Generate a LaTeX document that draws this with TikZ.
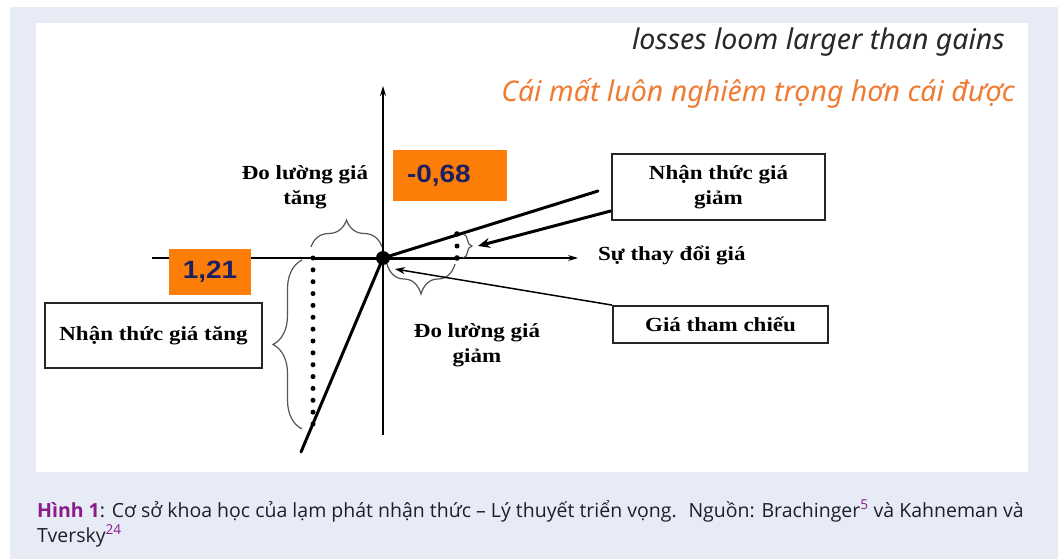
\documentclass[tikz,border=0pt]{standalone}
\usepackage{fontspec}
\setmainfont{Liberation Serif}
\newfontfamily\lblfont{Liberation Serif}[FakeStretch=1.15]
\newfontfamily\numfont{Liberation Sans}[FakeStretch=1.12]
\newfontfamily\headfont{Noto Sans}
\newfontfamily\capfont{Open Sans}
\usetikzlibrary{arrows.meta,decorations.pathreplacing,calc}

\definecolor{pagebg}{RGB}{231,235,246}
\definecolor{boxorange}{RGB}{252,126,8}
\definecolor{numnavy}{RGB}{28,32,98}
\definecolor{headorange}{RGB}{240,124,52}
\definecolor{headgray}{RGB}{40,40,40}
\definecolor{capviolet}{RGB}{138,28,138}
\definecolor{captext}{RGB}{30,30,40}
\definecolor{bracegray}{RGB}{85,85,85}

\tikzset{
  lbl/.style={font=\lblfont\bfseries\fontsize{20}{25}\selectfont, align=center, inner sep=0pt},
  framed/.style={draw=black!85, line width=1.8pt, fill=white, inner sep=0pt,
    font=\lblfont\bfseries\fontsize{20}{25}\selectfont, align=center},
  numbox/.style={fill=boxorange, text=numnavy, inner sep=0pt,
    font=\numfont\bfseries\fontsize{25}{28}\selectfont},
  axisline/.style={line width=1.6pt, -{Stealth[length=10pt,width=6pt]}},
  heavy/.style={line width=3pt, line cap=round},
  brc/.style={decorate, draw=bracegray, line width=1.2pt},
  pointer/.style={line width=3pt, -{Stealth[length=12pt,width=10pt]}},
  thinpointer/.style={line width=1.5pt, -{Stealth[length=10pt,width=7pt]}},
  dotmark/.style={fill=black},
  heading/.style={anchor=east, inner sep=0pt, font=\headfont\itshape\fontsize{28.5}{32}\selectfont},
}

\begin{document}
\begin{tikzpicture}[x=1pt,y=-1pt]
  % page and panel
  \useasboundingbox (0,0) rectangle (1058,559);
  \fill[white] (0,0) rectangle (1058,559);
  \fill[pagebg] (10,7) rectangle (1058,559);
  \fill[white] (36,23) rectangle (1028,472);

  % headings
  \node[heading, text=headgray] (hen) at (1005,42) {losses loom larger than gains};
  \node[heading, text=headorange] (hvi) at (1015,93) {Cái mất luôn nghiêm trọng hơn cái được};

  % key points
  \coordinate (O) at (383,258);
  \coordinate (ytop) at (383,86);
  \coordinate (ybot) at (383,435);
  \coordinate (xleft) at (152,258);
  \coordinate (xright) at (578,258);
  \coordinate (Lend) at (313,258);
  \coordinate (Rend) at (457,258);
  \coordinate (Rup) at (457,234);
  \coordinate (gainend) at (598,191);
  \coordinate (lossend) at (301,452);
  \coordinate (Ldot) at (313,424);

  % axes
  \draw[axisline] (ybot) -- (ytop);
  \draw[axisline, line width=1.3pt] (xleft) -- (xright);

  % value lines
  \draw[heavy] (Lend) -- (Rend);
  \draw[heavy] (O) -- (gainend);
  \draw[heavy] (O) -- (lossend);

  % dotted drops
  \foreach \i in {0,...,14}
    \fill[dotmark] ($(Lend)!\i/14!(Ldot)$) circle (2.5);
  \fill[dotmark] (Rend) circle (2.8);
  \fill[dotmark] (Rup) circle (2.8);
  \fill[dotmark] ($(Rend)!0.5!(Rup)$) circle (2.5);
  \fill[dotmark] (O) circle (7);

  % braces
  \draw[brc, decoration={brace, amplitude=27pt}] (311,247) -- (382,247);
  \draw[brc, decoration={brace, amplitude=9pt}] (463,234) -- (463,258);
  \draw[brc, decoration={brace, amplitude=30pt}] (455,264) -- (387,264);
  \draw[brc, decoration={brace, amplitude=29pt}] (302,429) -- (302,260);

  % value boxes
  \node[numbox, minimum width=114pt, minimum height=51pt, text width=86pt, align=left, inner xsep=14pt]
    (loss) at (450,175.5) {-0,68};
  \node[numbox, minimum width=82pt, minimum height=46pt] (gain) at (210,272) {1,21};

  % labels
  \node[lbl] (dtang) at (305,187) {Đo lường giá\\tăng};
  \node[lbl] (dgiam) at (477,345) {Đo lường giá\\giảm};
  \node[lbl, anchor=west] (delta) at (598,255) {Sự thay đổi giá};

  % framed boxes
  \node[framed, minimum width=213pt, minimum height=66pt] (giam) at (718.5,187) {Nhận thức giá\\giảm};
  \node[framed, minimum width=215pt, minimum height=37pt] (thamchieu) at (720.5,324.5) {Giá tham chiếu};
  \node[framed, minimum width=217pt, minimum height=65pt] (tang) at (153.5,335.5) {Nhận thức giá tăng};

  % pointers
  \coordinate (braceTip) at (478,246);
  \coordinate (refTip) at (395,269);
  \draw[pointer] ($(giam.south west)+(0,-10)$) -- (braceTip);
  \draw[thinpointer] (thamchieu.north west) -- (refTip);

  % caption
  \node[anchor=base west, align=left, inner sep=0pt, text=captext,
        font=\capfont\fontsize{19.5}{25}\selectfont] (cap) at (37,542)
    {{\color{capviolet}\bfseries Hình 1}: Cơ sở khoa học của lạm phát nhận thức – Lý thuyết triển vọng.~ Nguồn: Brachinger\textsuperscript{\color{capviolet}5} và Kahneman và\\
     Tversky\textsuperscript{\color{capviolet}24}};
\end{tikzpicture}
\end{document}
